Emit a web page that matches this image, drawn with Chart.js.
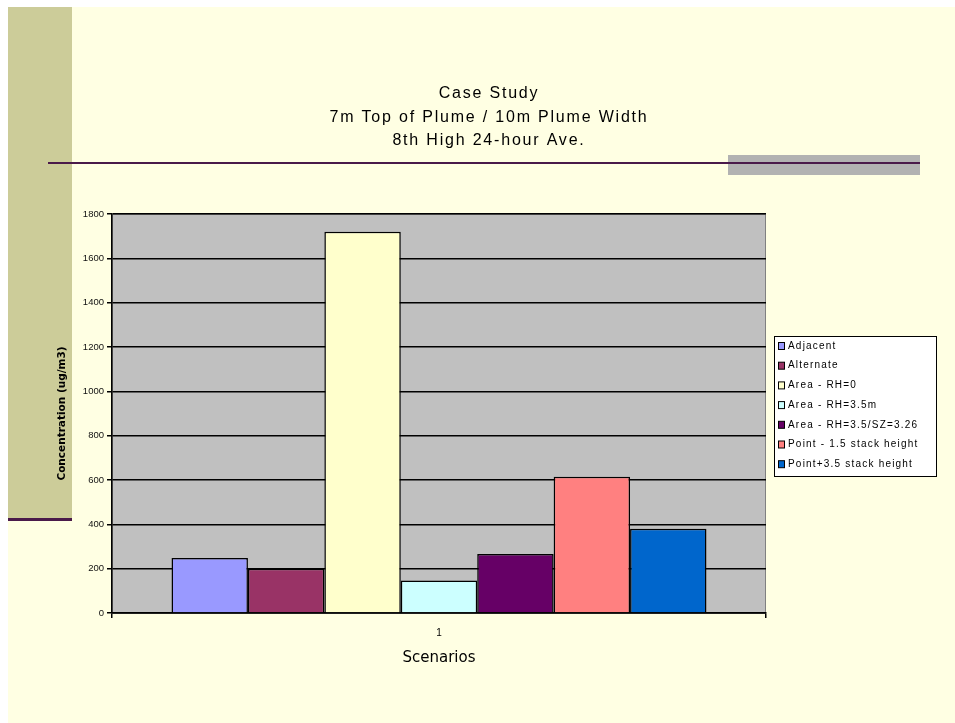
<!DOCTYPE html>
<html>
<head>
<meta charset="utf-8">
<script src="https://cdn.jsdelivr.net/npm/chart.js@4.4.1/dist/chart.umd.min.js"></script>
<style>
  html, body { margin: 0; padding: 0; background: #ffffff; }
  #wrap { width: 955px; height: 723px; position: relative; }
</style>
</head>
<body>
<div id="wrap"><canvas id="c" width="955" height="723"></canvas></div>
<script>
// ---- data ----
const categories = ['1'];
const seriesNames = [
  'Adjacent',
  'Alternate',
  'Area - RH=0',
  'Area - RH=3.5m',
  'Area - RH=3.5/SZ=3.26',
  'Point - 1.5 stack height',
  'Point+3.5 stack height'
];
const seriesValues = [248, 200, 1720, 147, 266, 615, 380];
const seriesColors = ['#9999FF', '#993366', '#FFFFCC', '#CCFFFF', '#660066', '#FF8080', '#0066CC'];
const titleLines = ['Case Study', '7m Top of Plume / 10m Plume Width', '8th High 24-hour Ave.'];
const yAxisTitle = 'Concentration (ug/m3)';
const xAxisTitle = 'Scenarios';
const yMin = 0, yMax = 1800, yStep = 200;

const datasets = seriesNames.map((name, i) => ({
  label: name,
  data: [seriesValues[i]],
  backgroundColor: seriesColors[i],
  borderColor: '#000000',
  borderWidth: 1.5,
  borderSkipped: 'bottom',
  categoryPercentage: 0.818,
  barPercentage: 1.0
}));

const slidePlugin = {
  id: 'slide',
  beforeDraw(chart) {
    const ctx = chart.ctx;
    ctx.save();
    ctx.fillStyle = '#ffffff';
    ctx.fillRect(0, 0, chart.width, chart.height);
    ctx.fillStyle = '#FFFFE3';
    ctx.fillRect(8, 7, chart.width - 8, chart.height - 7);
    ctx.fillStyle = '#CCCC99';
    ctx.fillRect(8, 7, 64, 511);
    ctx.fillStyle = '#4A1A4A';
    ctx.fillRect(8, 518, 64, 3);
    ctx.fillStyle = '#B2B2B2';
    ctx.fillRect(728, 155, 192, 20);
    ctx.fillStyle = '#4A1A4A';
    ctx.fillRect(48, 162, 872, 2);
    // plot area background
    const a = chart.chartArea;
    ctx.fillStyle = '#C0C0C0';
    ctx.fillRect(a.left, a.top, a.right - a.left, a.bottom - a.top);
    ctx.strokeStyle = '#808080';
    ctx.lineWidth = 1;
    ctx.strokeRect(a.left + 0.5, a.top + 0.5, a.right - a.left - 1, a.bottom - a.top);
    // title
    ctx.fillStyle = '#000000';
    ctx.font = '16px "Liberation Sans", Arial, sans-serif';
    ctx.letterSpacing = '1.8px';
    ctx.textAlign = 'center';
    ctx.textBaseline = 'middle';
    const ys = [94, 118, 141];
    titleLines.forEach((t, i) => ctx.fillText(t, 489, ys[i]));
    ctx.restore();
  },
  afterDraw(chart) {
    // legend box built from datasets
    const ctx = chart.ctx;
    ctx.save();
    const bx = 774, by = 336, bw = 162, bh = 140;
    ctx.fillStyle = '#ffffff';
    ctx.fillRect(bx, by, bw, bh);
    ctx.strokeStyle = '#000000';
    ctx.lineWidth = 1;
    ctx.strokeRect(bx + 0.5, by + 0.5, bw, bh);
    ctx.font = '10px "Liberation Sans", Arial, sans-serif';
    ctx.letterSpacing = '1.2px';
    ctx.textAlign = 'left';
    ctx.textBaseline = 'middle';
    chart.data.datasets.forEach((ds, i) => {
      const y = 346 + i * 19.7;
      ctx.fillStyle = ds.backgroundColor;
      ctx.fillRect(778.5, y - 3.5, 6, 7);
      ctx.strokeStyle = '#000';
      ctx.strokeRect(778.5, y - 3.5, 6, 7);
      ctx.fillStyle = '#000';
      ctx.fillText(ds.label, 788, y);
    });
    ctx.restore();
  }
};

new Chart(document.getElementById('c'), {
  type: 'bar',
  data: { labels: categories, datasets },
  plugins: [slidePlugin],
  options: {
    responsive: false,
    animation: false,
    layout: { padding: { left: 56, right: 189, top: 214, bottom: 50 } },
    plugins: { legend: { display: false }, title: { display: false }, tooltip: { enabled: false } },
    scales: {
      x: {
        grid: { display: true, drawOnChartArea: false, drawTicks: true, tickLength: 5, color: '#000', lineWidth: 1.5, offset: true },
        border: { color: '#000', width: 1.5 },
        ticks: { color: '#000', font: { family: 'Liberation Sans', size: 10 }, padding: 9 },
        title: { display: true, text: xAxisTitle, color: '#000', font: { family: 'DejaVu Sans', size: 15 }, padding: { top: 4, bottom: 6 } },
        afterFit(scale) { scale.height = 60; }
      },
      y: {
        min: yMin, max: yMax,
        ticks: { stepSize: yStep, color: '#111', font: { family: 'Liberation Sans', size: 9.5 }, padding: 3,
                 callback: (v) => String(v) },
        grid: { color: '#000', lineWidth: 1.5, tickLength: 5, drawTicks: true },
        border: { color: '#000', width: 1.5 },
        title: { display: true, text: yAxisTitle, color: '#000', font: { family: 'DejaVu Sans', size: 10.5, weight: 'bold' }, padding: { top: 0, bottom: 0 } },
        afterFit(scale) { scale.width = 56; }
      }
    }
  }
});
</script>
</body>
</html>
